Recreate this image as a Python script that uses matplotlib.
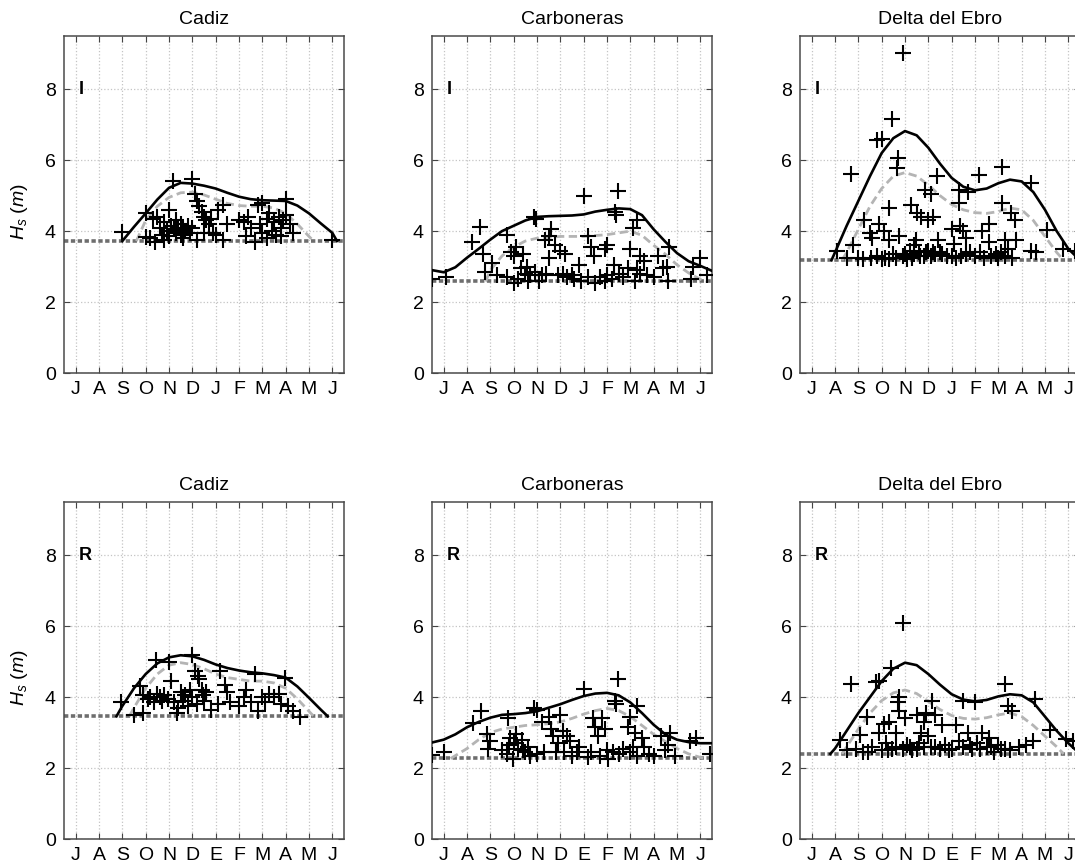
import numpy as np
import matplotlib.pyplot as plt

plt.rcParams['font.family'] = ['Liberation Sans', 'DejaVu Sans']
plt.rcParams['mathtext.fontset'] = 'custom'
plt.rcParams['mathtext.it'] = 'Liberation Sans:italic'
plt.rcParams['mathtext.rm'] = 'Liberation Sans'

# --- DATA (x = months after June: 0 = J(ul) ... 11 = J(un)) ---
sites = ['Cadiz', 'Carboneras', 'Delta del Ebro']
row_tags = ['I', 'R']
months_top = ['J', 'A', 'S', 'O', 'N', 'D', 'J', 'F', 'M', 'A', 'M', 'J']
months_bot = ['J', 'A', 'S', 'O', 'N', 'D', 'E', 'F', 'M', 'A', 'M', 'J']

thresholds = [[3.72, 2.58, 3.18], [3.46, 2.27, 2.40]]

# Cadiz I
cad_i_solid_x = [2.0, 2.5, 3.0, 3.5, 4.0, 4.5, 5.0, 5.5, 6.0, 6.5, 7.0, 7.5, 8.0, 8.5, 9.0, 9.5, 10.0, 10.5, 11.0, 11.2]
cad_i_solid_y = [3.72, 4.12, 4.5, 4.89, 5.22, 5.36, 5.34, 5.28, 5.2, 5.08, 4.97, 4.9, 4.87, 4.86, 4.85, 4.72, 4.5, 4.22, 3.95, 3.72]
cad_i_dash_x = [2.6, 3.0, 3.5, 4.0, 4.5, 5.0, 5.5, 6.0, 6.5, 7.0, 7.5, 8.0, 8.5, 9.0, 9.5, 10.0, 10.2]
cad_i_dash_y = [3.72, 4.3, 4.7, 4.95, 5.08, 5.1, 5.02, 4.9, 4.78, 4.72, 4.7, 4.7, 4.65, 4.5, 4.2, 3.85, 3.72]
cad_i_pts = np.array([
    (2.0, 3.98), (3.0, 3.82), (3.2, 3.8), (3.4, 3.68), (3.0, 4.5), (3.3, 4.35), (3.5, 4.4), (3.6, 4.1),
    (3.7, 3.9), (3.8, 4.25), (3.9, 4.0), (4.0, 4.6), (4.0, 3.85), (4.1, 4.15), (4.15, 5.42), (4.2, 4.05),
    (4.3, 3.95), (4.3, 4.3), (4.4, 4.1), (4.5, 3.9), (4.5, 4.2), (4.6, 4.05), (4.7, 4.0), (4.8, 4.15),
    (4.9, 3.95), (5.0, 5.48), (5.0, 4.1), (5.1, 5.05), (5.2, 4.85), (5.2, 3.75), (5.3, 4.7), (5.4, 4.55),
    (5.5, 4.4), (5.6, 4.3), (5.7, 4.2), (5.8, 4.35), (5.5, 3.95), (5.9, 3.95), (6.1, 4.6), (6.3, 4.75),
    (6.3, 3.75), (6.5, 4.2), (7.0, 4.3), (7.2, 4.25), (7.4, 4.4), (7.5, 4.1), (7.7, 3.7), (7.8, 4.75),
    (7.9, 4.2), (8.0, 4.8), (8.0, 3.95), (8.2, 4.35), (8.3, 4.5), (8.4, 4.0), (8.5, 4.25), (8.6, 3.9),
    (8.7, 4.4), (8.8, 4.1), (8.9, 4.3), (9.0, 4.9), (9.0, 4.45), (9.2, 4.2), (9.3, 3.95), (11.0, 3.75),
    (3.8, 3.75), (4.6, 3.8), (6.0, 3.9), (7.3, 3.85), (8.2, 3.8), (8.8, 3.85)])

# Carboneras I
car_i_solid_x = [-0.5, 0.0, 0.5, 1.0, 1.5, 2.0, 2.5, 3.0, 3.5, 4.0, 4.5, 5.0, 5.5, 6.0, 6.5, 7.0, 7.5, 8.0, 8.5, 9.0, 9.5, 10.0, 10.5, 11.0, 11.5]
car_i_solid_y = [2.9, 2.84, 2.98, 3.25, 3.5, 3.76, 4.0, 4.15, 4.3, 4.4, 4.42, 4.43, 4.44, 4.47, 4.55, 4.6, 4.64, 4.62, 4.45, 4.05, 3.7, 3.38, 3.15, 3.02, 2.88]
car_i_dash_x = [1.8, 2.0, 2.5, 3.0, 3.5, 4.0, 5.0, 6.0, 7.0, 7.5, 8.0, 8.5, 9.0, 9.5, 10.0, 10.5, 11.0, 11.3]
car_i_dash_y = [2.58, 2.9, 3.3, 3.55, 3.72, 3.8, 3.85, 3.85, 3.9, 3.95, 4.0, 3.88, 3.6, 3.35, 3.05, 2.82, 2.64, 2.58]
car_i_pts = np.array([
    (-0.5, 2.65), (0.1, 2.7), (1.2, 3.7), (1.55, 4.12), (1.7, 3.35), (1.75, 2.85), (2.05, 3.1), (2.7, 3.88),
    (2.7, 2.7), (2.9, 3.4), (3.0, 3.3), (3.0, 2.55), (3.1, 3.55), (3.3, 2.95), (3.4, 3.35), (3.5, 2.8),
    (3.55, 3.0), (3.6, 2.6), (3.85, 4.4), (3.95, 4.35), (3.9, 2.85), (4.2, 2.75), (4.35, 3.75), (4.5, 3.85),
    (4.6, 4.05), (4.5, 3.25), (4.75, 3.6), (4.9, 2.75), (5.0, 3.45), (5.1, 2.8), (5.2, 3.35), (5.5, 2.75),
    (5.6, 2.65), (5.8, 3.05), (6.0, 5.0), (6.2, 3.85), (6.3, 3.55), (6.45, 3.3), (6.5, 2.55), (6.7, 2.7),
    (6.9, 3.5), (7.0, 2.75), (7.0, 3.6), (7.3, 3.05), (7.35, 4.55), (7.4, 4.45), (7.45, 5.12), (7.5, 2.8),
    (7.9, 2.95), (8.0, 3.5), (8.1, 4.1), (8.3, 4.32), (8.3, 2.9), (8.4, 3.3), (8.4, 2.8), (8.6, 3.15),
    (9.0, 2.7), (9.2, 3.3), (9.4, 2.95), (9.55, 3.0), (9.65, 3.55), (10.6, 2.65), (10.7, 3.0), (11.0, 3.25),
    (11.3, 2.75), (2.3, 2.75), (3.2, 2.65), (3.7, 2.75), (4.1, 2.6), (4.4, 2.8), (5.3, 2.7), (5.9, 2.6),
    (6.2, 2.7), (6.9, 2.6), (7.2, 2.65), (7.7, 2.7), (8.2, 2.6), (8.7, 2.75), (9.6, 2.6)])

# Delta del Ebro I
del_i_solid_x = [0.85, 1.0, 1.5, 2.0, 2.5, 3.0, 3.5, 4.0, 4.5, 5.0, 5.5, 6.0, 6.5, 7.0, 7.5, 8.0, 8.5, 9.0, 9.5, 10.0, 10.5, 11.0, 11.5]
del_i_solid_y = [3.18, 3.4, 4.15, 4.85, 5.55, 6.2, 6.62, 6.82, 6.7, 6.35, 5.9, 5.5, 5.25, 5.15, 5.2, 5.35, 5.45, 5.4, 5.1, 4.6, 4.0, 3.5, 3.18]
del_i_dash_x = [1.3, 1.5, 2.0, 2.5, 3.0, 3.5, 4.0, 4.5, 5.0, 5.5, 6.0, 6.5, 7.0, 7.5, 8.0, 8.5, 9.0, 9.5, 10.0, 10.5, 10.8]
del_i_dash_y = [3.18, 3.4, 4.05, 4.7, 5.2, 5.55, 5.65, 5.55, 5.3, 5.0, 4.75, 4.6, 4.52, 4.5, 4.55, 4.65, 4.6, 4.3, 3.85, 3.4, 3.18]
del_i_pts = np.array([
    (1.1, 3.45), (1.5, 3.25), (1.75, 3.6), (1.7, 5.62), (2.0, 3.25), (2.25, 4.32), (2.5, 3.95), (2.6, 3.8),
    (2.55, 3.25), (2.8, 6.58), (3.0, 6.6), (2.9, 4.2), (3.1, 4.0), (3.15, 3.25), (3.3, 3.75), (3.3, 4.66),
    (3.45, 7.15), (3.5, 3.35), (3.6, 3.25), (3.65, 5.78), (3.7, 6.06), (3.75, 3.85), (3.9, 9.03), (3.9, 3.3),
    (4.1, 3.2), (4.2, 3.45), (4.25, 4.75), (4.4, 3.6), (4.45, 3.75), (4.5, 4.5), (4.6, 3.4), (4.7, 4.4),
    (4.8, 3.3), (4.85, 5.15), (5.0, 3.45), (5.0, 4.3), (5.1, 5.05), (5.2, 4.4), (5.3, 3.35), (5.35, 5.56),
    (5.4, 3.75), (5.5, 3.4), (5.8, 3.3), (6.0, 4.05), (6.1, 3.65), (6.3, 5.15), (6.3, 4.8), (6.35, 4.15),
    (6.4, 3.3), (6.5, 4.0), (6.6, 3.8), (6.7, 5.1), (6.8, 3.4), (7.15, 5.58), (7.3, 4.0), (7.4, 3.25),
    (7.6, 4.2), (7.6, 3.7), (7.9, 3.35), (8.1, 3.4), (8.14, 5.81), (8.14, 4.8), (8.3, 3.75), (8.4, 3.5),
    (8.55, 4.5), (8.7, 4.3), (8.75, 3.75), (9.4, 5.35), (9.4, 3.45), (9.6, 3.4), (10.1, 4.02), (10.75, 3.5),
    (11.3, 3.45), (2.2, 3.2), (2.8, 3.3), (3.0, 3.2), (3.3, 3.2), (4.0, 3.35), (4.3, 3.25), (4.4, 3.35),
    (4.65, 3.3), (4.9, 3.4), (5.1, 3.3), (5.2, 3.4), (5.6, 3.35), (6.0, 3.3), (6.2, 3.25), (6.6, 3.35),
    (7.0, 3.3), (7.2, 3.4), (7.7, 3.3), (8.0, 3.25), (8.3, 3.3), (8.6, 3.25)])

# Cadiz R
cad_r_solid_x = [1.75, 2.0, 2.5, 3.0, 3.5, 4.0, 4.5, 5.0, 5.5, 6.0, 6.5, 7.0, 7.5, 8.0, 8.5, 9.0, 9.5, 10.0, 10.5, 10.8]
cad_r_solid_y = [3.46, 3.75, 4.25, 4.65, 4.95, 5.12, 5.18, 5.15, 5.05, 4.92, 4.82, 4.75, 4.7, 4.67, 4.62, 4.55, 4.3, 3.98, 3.65, 3.46]
cad_r_dash_x = [2.3, 2.5, 3.0, 3.5, 4.0, 4.5, 5.0, 5.5, 6.0, 6.5, 7.0, 7.5, 8.0, 8.5, 9.0, 9.5, 10.0, 10.2]
cad_r_dash_y = [3.46, 3.7, 4.25, 4.65, 4.9, 4.97, 4.92, 4.8, 4.65, 4.55, 4.5, 4.45, 4.45, 4.4, 4.25, 3.95, 3.6, 3.46]
cad_r_pts = np.array([
    (1.95, 3.85), (2.5, 3.5), (2.9, 3.55), (2.75, 4.3), (2.9, 4.05), (3.1, 3.95), (3.2, 4.0), (3.35, 3.85),
    (3.45, 5.05), (3.5, 4.1), (3.6, 4.0), (3.7, 3.9), (3.8, 4.05), (3.95, 3.95), (4.0, 5.0), (4.1, 4.45),
    (4.2, 3.85), (4.35, 3.55), (4.4, 3.7), (4.5, 4.15), (4.6, 3.9), (4.7, 4.05), (4.8, 3.75), (4.9, 4.2),
    (5.0, 5.2), (5.0, 4.0), (5.1, 4.75), (5.2, 3.8), (5.25, 4.6), (5.3, 4.5), (5.4, 4.2), (5.45, 4.05),
    (5.5, 3.9), (5.6, 4.15), (5.8, 3.65), (6.1, 3.8), (6.2, 4.75), (6.4, 4.35), (6.5, 4.15), (6.6, 3.85),
    (7.0, 3.75), (7.2, 4.0), (7.3, 4.2), (7.5, 3.85), (7.7, 4.65), (7.8, 3.6), (8.0, 4.0), (8.1, 3.85),
    (8.3, 4.1), (8.5, 4.0), (8.7, 4.1), (8.8, 3.8), (8.95, 4.55), (9.1, 3.75), (9.3, 3.6), (9.6, 3.45)])

# Carboneras R
car_r_solid_x = [-0.5, 0.0, 0.5, 1.0, 1.5, 2.0, 2.5, 3.0, 3.5, 4.0, 4.5, 5.0, 5.5, 6.0, 6.5, 7.0, 7.5, 8.0, 8.5, 9.0, 9.5, 10.0, 10.5, 11.0, 11.5]
car_r_solid_y = [2.72, 2.8, 2.95, 3.15, 3.3, 3.42, 3.5, 3.52, 3.55, 3.6, 3.7, 3.8, 3.92, 4.03, 4.1, 4.12, 4.05, 3.85, 3.55, 3.22, 2.95, 2.8, 2.73, 2.7, 2.7]
car_r_dash_x = [0.3, 0.5, 1.0, 1.5, 2.0, 2.5, 3.0, 3.5, 4.0, 4.5, 5.0, 5.5, 6.0, 6.5, 7.0, 7.5, 8.0, 8.5, 9.0, 9.5, 10.0, 10.5, 11.0, 11.2]
car_r_dash_y = [2.27, 2.35, 2.55, 2.8, 3.0, 3.1, 3.15, 3.2, 3.22, 3.25, 3.3, 3.4, 3.52, 3.62, 3.68, 3.62, 3.45, 3.2, 2.95, 2.75, 2.55, 2.4, 2.3, 2.27]
car_r_pts = np.array([
    (-0.5, 2.37), (0.0, 2.45), (1.25, 3.28), (1.6, 3.62), (1.85, 2.95), (1.9, 2.55), (2.0, 2.75), (2.75, 3.4),
    (2.7, 2.4), (2.8, 2.65), (2.85, 2.85), (2.95, 2.25), (3.0, 2.7), (3.1, 2.95), (3.2, 2.55), (3.35, 2.8),
    (3.4, 2.5), (3.5, 2.45), (3.7, 2.35), (3.85, 3.7), (4.0, 3.65), (4.0, 2.4), (4.2, 3.3), (4.3, 2.45),
    (4.5, 3.45), (4.6, 3.1), (4.7, 2.9), (4.9, 2.7), (5.0, 3.5), (5.1, 3.05), (5.15, 2.45), (5.3, 2.9),
    (5.4, 2.75), (5.7, 2.45), (5.8, 2.6), (6.0, 4.22), (6.2, 2.3), (6.4, 3.4), (6.5, 3.15), (6.6, 2.9),
    (6.8, 3.4), (6.9, 3.1), (7.0, 2.5), (7.05, 2.25), (7.25, 2.45), (7.35, 3.9), (7.4, 3.8), (7.45, 4.52),
    (7.7, 2.55), (7.9, 3.15), (8.0, 3.45), (8.0, 2.45), (8.2, 3.0), (8.3, 3.75), (8.3, 2.35), (8.5, 2.85),
    (8.6, 2.6), (9.0, 2.35), (9.3, 2.9), (9.5, 2.5), (9.6, 2.65), (9.7, 3.0), (10.55, 2.75), (10.8, 2.85),
    (11.4, 2.4), (2.5, 2.5), (3.6, 2.6), (4.8, 2.45), (5.5, 2.35), (6.3, 2.45), (6.7, 2.35), (7.5, 2.4),
    (8.1, 2.6), (8.8, 2.4), (9.9, 2.35)])

# Delta del Ebro R
del_r_solid_x = [0.8, 1.0, 1.5, 2.0, 2.5, 3.0, 3.5, 4.0, 4.5, 5.0, 5.5, 6.0, 6.5, 7.0, 7.5, 8.0, 8.5, 9.0, 9.5, 10.0, 10.5, 11.0, 11.5]
del_r_solid_y = [2.4, 2.55, 3.05, 3.55, 4.0, 4.45, 4.8, 4.97, 4.9, 4.65, 4.35, 4.08, 3.93, 3.88, 3.92, 4.02, 4.08, 4.05, 3.85, 3.45, 3.05, 2.7, 2.4]
del_r_dash_x = [1.3, 1.5, 2.0, 2.5, 3.0, 3.5, 4.0, 4.5, 5.0, 5.5, 6.0, 6.5, 7.0, 7.5, 8.0, 8.5, 9.0, 9.5, 10.0, 10.5, 10.8]
del_r_dash_y = [2.4, 2.6, 3.1, 3.55, 3.9, 4.12, 4.2, 4.1, 3.88, 3.65, 3.48, 3.4, 3.38, 3.42, 3.5, 3.55, 3.45, 3.2, 2.9, 2.6, 2.4]
del_r_pts = np.array([
    (1.2, 2.8), (1.5, 2.5), (1.7, 4.37), (1.9, 2.55), (2.05, 2.92), (2.35, 3.45), (2.4, 2.45), (2.75, 4.42),
    (2.9, 4.45), (2.9, 3.0), (3.0, 2.5), (3.1, 3.25), (3.2, 2.7), (3.3, 3.3), (3.4, 4.81), (3.45, 2.55),
    (3.6, 3.0), (3.7, 3.85), (3.75, 4.0), (3.75, 3.6), (3.9, 6.08), (3.9, 2.55), (4.0, 3.4), (4.1, 2.65),
    (4.3, 2.5), (4.5, 3.5), (4.6, 2.7), (4.7, 3.0), (4.8, 3.3), (4.9, 3.55), (5.0, 2.9), (5.1, 2.6),
    (5.15, 3.88), (5.3, 3.5), (5.5, 2.55), (5.6, 3.2), (5.9, 2.5), (6.2, 3.2), (6.3, 2.75), (6.5, 3.9),
    (6.5, 2.6), (6.7, 3.0), (6.85, 2.55), (7.0, 3.85), (7.1, 2.7), (7.3, 3.0), (7.5, 2.6), (7.6, 2.85),
    (7.8, 2.45), (8.0, 2.65), (8.3, 4.37), (8.3, 2.55), (8.4, 3.75), (8.5, 2.5), (8.6, 3.6), (9.2, 2.65),
    (9.55, 3.95), (9.5, 2.75), (10.2, 3.06), (10.9, 2.82), (11.2, 2.75), (2.2, 2.45), (2.6, 2.6),
    (3.25, 2.5), (3.6, 2.6), (4.2, 2.6), (4.5, 2.55), (4.8, 2.6), (5.3, 2.6), (5.7, 2.65), (6.0, 2.55),
    (6.8, 2.65), (7.2, 2.55), (7.7, 2.6), (8.1, 2.55), (8.9, 2.6)])

solid_curves = [[(cad_i_solid_x, cad_i_solid_y), (car_i_solid_x, car_i_solid_y), (del_i_solid_x, del_i_solid_y)],
                [(cad_r_solid_x, cad_r_solid_y), (car_r_solid_x, car_r_solid_y), (del_r_solid_x, del_r_solid_y)]]
dash_curves = [[(cad_i_dash_x, cad_i_dash_y), (car_i_dash_x, car_i_dash_y), (del_i_dash_x, del_i_dash_y)],
               [(cad_r_dash_x, cad_r_dash_y), (car_r_dash_x, car_r_dash_y), (del_r_dash_x, del_r_dash_y)]]
points = [[cad_i_pts, car_i_pts, del_i_pts], [cad_r_pts, car_r_pts, del_r_pts]]

# --- LAYOUT (pixels of a 1075x867 canvas) ---
W, H = 1075, 867
col_left = [64, 432, 800]
row_top = [36, 502]
ax_w, ax_h = 280, 337

fig = plt.figure(figsize=(W / 100, H / 100), dpi=100)

for r in range(2):
    for c in range(3):
        ax = fig.add_axes([col_left[c] / W, 1 - (row_top[r] + ax_h) / H, ax_w / W, ax_h / H])

        ax.axhline(thresholds[r][c], color='#6e6e6e', lw=2.6, dashes=(1.2, 0.7), zorder=2)
        dx, dy = dash_curves[r][c]
        ax.plot(dx, dy, color='#b4b4b4', lw=2.0, dashes=(3, 1.6), zorder=3)
        sx, sy = solid_curves[r][c]
        ax.plot(sx, sy, color='black', lw=1.9, zorder=4)
        pts = points[r][c]
        ax.plot(pts[:, 0], pts[:, 1], '+', color='black', ms=11, mew=1.5, zorder=5)

        ax.set_xlim(-0.5, 11.5)
        ax.set_ylim(0, 9.5)
        ax.set_xticks(range(12))
        ax.set_xticklabels(months_top if r == 0 else months_bot)
        ax.set_yticks([0, 2, 4, 6, 8])
        ax.tick_params(direction='in', top=True, right=True, length=4, width=0.8,
                       labelsize=14, color='#444444', pad=6)
        ax.grid(True, color='#c4c4c4', ls=':', lw=0.9)
        ax.set_axisbelow(True)
        for sp in ax.spines.values():
            sp.set_color('#4a4a4a')
            sp.set_linewidth(1.1)

        ax.set_title(sites[c], fontsize=14, pad=9)
        ax.text(0.15, 8, row_tags[r], fontsize=13, fontweight='bold', ha='left', va='center')
        if c == 0:
            ax.set_ylabel(r'$H_s\ (m)$', fontsize=14)
            ax.yaxis.set_label_coords(-0.12, 0.48)

fig.savefig('out.png', dpi=100)
